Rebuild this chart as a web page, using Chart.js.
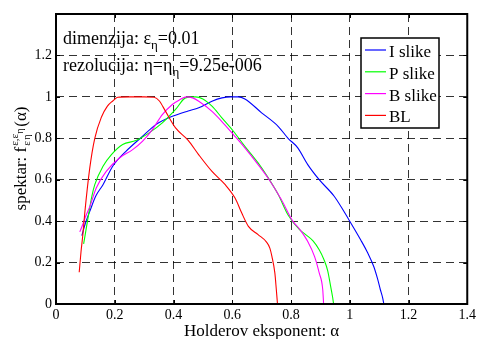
<!DOCTYPE html>
<html><head><meta charset="utf-8">
<script src="https://cdn.jsdelivr.net/npm/chart.js@4"></script>
<style>html,body{margin:0;padding:0;background:#fff;}#wrap{width:479px;height:339px;position:relative;}</style>
</head><body><div id="wrap"><canvas id="c" width="479" height="339"></canvas></div>
<script>
// ---- data ----
const seriesNames  = ['I slike', 'P slike', 'B slike', 'BL'];
const seriesColors = ['#0000ff', '#00ff00', '#ff00ff', '#ff0000'];

const iAlpha = [0.088,0.100,0.115,0.135,0.160,0.193,0.238,0.295,0.340,0.396,0.450,0.486,0.531,0.565,0.595,0.620,0.643,0.700,0.756,0.790,0.823,0.857,0.896,0.947,0.997,1.037,1.060,1.082,1.095,1.104,1.112,1.116];
const iSpec  = [0.330,0.390,0.447,0.520,0.576,0.665,0.737,0.810,0.866,0.906,0.932,0.947,0.979,0.995,1.000,1.000,0.990,0.923,0.858,0.800,0.754,0.673,0.600,0.520,0.407,0.310,0.250,0.180,0.120,0.070,0.030,0.000];

const pAlpha = [0.094,0.100,0.106,0.113,0.122,0.132,0.160,0.188,0.227,0.272,0.317,0.362,0.407,0.441,0.475,0.500,0.531,0.564,0.604,0.643,0.688,0.722,0.756,0.790,0.829,0.850,0.875,0.896,0.912,0.925,0.935,0.942,0.945];
const pSpec  = [0.290,0.340,0.390,0.450,0.520,0.576,0.665,0.720,0.770,0.789,0.826,0.874,0.939,0.995,1.000,0.990,0.955,0.900,0.834,0.761,0.681,0.610,0.530,0.430,0.359,0.335,0.305,0.262,0.215,0.160,0.085,0.030,0.000];

const bAlpha = [0.081,0.090,0.100,0.115,0.137,0.171,0.216,0.261,0.295,0.328,0.362,0.396,0.420,0.445,0.465,0.486,0.531,0.564,0.604,0.643,0.688,0.728,0.767,0.806,0.829,0.857,0.880,0.896,0.908,0.911];
const bSpec  = [0.348,0.380,0.420,0.470,0.560,0.640,0.705,0.745,0.786,0.842,0.914,0.963,0.985,1.000,0.995,0.979,0.930,0.882,0.818,0.754,0.673,0.595,0.504,0.400,0.362,0.302,0.230,0.150,0.070,0.000];

const blAlpha = [0.079,0.085,0.092,0.098,0.115,0.132,0.154,0.175,0.193,0.210,0.250,0.300,0.334,0.352,0.373,0.407,0.450,0.486,0.531,0.576,0.610,0.632,0.655,0.688,0.716,0.728,0.735,0.745,0.750,0.754];
const blSpec  = [0.153,0.250,0.343,0.440,0.657,0.800,0.900,0.955,0.980,0.998,1.000,1.000,0.998,0.980,0.930,0.850,0.790,0.720,0.640,0.576,0.510,0.440,0.375,0.335,0.300,0.270,0.230,0.150,0.070,0.000];

const xTicks = [0, 0.2, 0.4, 0.6, 0.8, 1, 1.2, 1.4];
const yTicks = [0, 0.2, 0.4, 0.6, 0.8, 1, 1.2];

const xTitle = 'Holderov eksponent: α';
// -------------------------------------------------

const FONT = '"Liberation Serif", "Times New Roman", serif';
const alphas = [iAlpha, pAlpha, bAlpha, blAlpha];
const specs  = [iSpec, pSpec, bSpec, blSpec];
const fmt = v => String(Math.round(v * 10) / 10);

const datasets = seriesNames.map((name, k) => ({
  label: name,
  data: alphas[k].map((a, i) => ({ x: a, y: specs[k][i] })),
  borderColor: seriesColors[k],
  backgroundColor: seriesColors[k],
  borderWidth: 1.1,
  pointRadius: 0,
  fill: false,
  cubicInterpolationMode: 'monotone',
  order: seriesNames.length - k
}));

function drawRich(ctx, parts, x, y) {
  // parts: [text, size, dy, advance?]
  let cx = x;
  for (const p of parts) {
    ctx.font = p[1] + 'px ' + FONT;
    ctx.fillText(p[0], cx, y + p[2]);
    if (p[3] !== false) cx += ctx.measureText(p[0]).width;
  }
  return cx - x;
}
function richWidth(ctx, parts) {
  let w = 0;
  for (const p of parts) { ctx.font = p[1] + 'px ' + FONT; if (p[3] !== false) w += ctx.measureText(p[0]).width; }
  return w;
}

const decor = {
  id: 'decor',
  afterDatasetsDraw(chart) {
    const ctx = chart.ctx;
    const a = chart.chartArea;
    const xs = chart.scales.x, ys = chart.scales.y;
    ctx.save();
    // inward ticks
    ctx.strokeStyle = '#000'; ctx.lineWidth = 1;
    ctx.beginPath();
    xTicks.forEach(t => { const px = Math.round(xs.getPixelForValue(t)) + 0.5;
      ctx.moveTo(px, a.bottom); ctx.lineTo(px, a.bottom - 4);
      ctx.moveTo(px, a.top); ctx.lineTo(px, a.top + 4); });
    yTicks.forEach(t => { const py = Math.round(ys.getPixelForValue(t)) + 0.5;
      ctx.moveTo(a.left, py); ctx.lineTo(a.left + 4, py);
      ctx.moveTo(a.right, py); ctx.lineTo(a.right - 4, py); });
    ctx.stroke();
    // axes box
    ctx.lineWidth = 2;
    ctx.strokeRect(a.left, a.top, a.right - a.left, a.bottom - a.top);

    // annotations
    ctx.fillStyle = '#000';
    ctx.textAlign = 'left'; ctx.textBaseline = 'alphabetic';
    drawRich(ctx, [['dimenzija: ε', 18, 0], ['η', 13, 5], ['=0.01', 18, 0]], 63, 44);
    drawRich(ctx, [['rezolucija: η=η', 18, 0], ['η', 13, 5], ['=9.25e-006', 18, 0]], 63, 71);

    // legend
    const lx = 361, ly = 38, lw = 78, lh = 90;
    ctx.fillStyle = '#fff';
    ctx.fillRect(lx, ly, lw, lh);
    ctx.lineWidth = 1.5; ctx.strokeStyle = '#000';
    ctx.strokeRect(lx, ly, lw, lh);
    seriesNames.forEach((n, k) => {
      const yy = 50 + k * 21.8;
      ctx.strokeStyle = seriesColors[k]; ctx.lineWidth = 1.2;
      ctx.beginPath(); ctx.moveTo(365, yy); ctx.lineTo(386, yy); ctx.stroke();
      ctx.fillStyle = '#000'; ctx.font = '17px ' + FONT;
      ctx.fillText(n, 389, yy + 7);
    });

    // x title
    ctx.font = '17px ' + FONT; ctx.textAlign = 'center';
    ctx.fillText(xTitle, (a.left + a.right) / 2, 336);

    // y title (rotated, with scripts)
    ctx.textAlign = 'left';
    ctx.translate(26, (a.top + a.bottom) / 2);
    ctx.rotate(-Math.PI / 2);
    const head = [['spektar: f', 17, 0]];
    const wHead = richWidth(ctx, head);
    ctx.font = '11px ' + FONT;
    const wSup = ctx.measureText('ε,ε').width;
    const tail = [['(α)', 17, 0]];
    const total = wHead + wSup + 7 + richWidth(ctx, tail);
    let x0 = -total / 2;
    drawRich(ctx, head, x0, 0);
    x0 += wHead + 1;
    ctx.font = '11px ' + FONT;
    ctx.fillText('ε,ε', x0, -8);
    ctx.fillText('ε', x0, 4);
    ctx.font = '10px ' + FONT;
    ctx.fillText('η', x0 + wSup, -3);
    ctx.fillText('η', x0 + 6, 4);
    x0 += wSup + 7;
    drawRich(ctx, tail, x0, 0);
    ctx.restore();
  }
};

new Chart(document.getElementById('c'), {
  type: 'line',
  data: { datasets },
  options: {
    responsive: false,
    animation: false,
    devicePixelRatio: 1,
    layout: { padding: { top: 14, right: 8, left: 0, bottom: 0 } },
    plugins: { legend: { display: false }, tooltip: { enabled: false } },
    scales: {
      x: {
        type: 'linear', min: 0, max: 1.4,
        afterFit: s => { s.height = 35; },
        afterBuildTicks: s => { s.ticks = xTicks.map(v => ({ value: v })); },
        ticks: { callback: v => fmt(v), color: '#000', font: { family: FONT, size: 14 }, padding: 3, maxRotation: 0 },
        grid: { color: 'rgba(0,0,0,0.8)', lineWidth: 1, drawTicks: false },
        border: { display: false, dash: [8, 5] }
      },
      y: {
        type: 'linear', min: 0, max: 1.4,
        afterFit: s => { s.width = 56; },
        afterBuildTicks: s => { s.ticks = yTicks.concat([1.4]).map(v => ({ value: v })); },
        ticks: { callback: v => (v > 1.3 ? '' : fmt(v)), color: '#000', font: { family: FONT, size: 14 }, padding: 4 },
        grid: { color: 'rgba(0,0,0,0.8)', lineWidth: 1, drawTicks: false },
        border: { display: false, dash: [8, 5] }
      }
    }
  },
  plugins: [decor]
});
</script>
</body></html>
